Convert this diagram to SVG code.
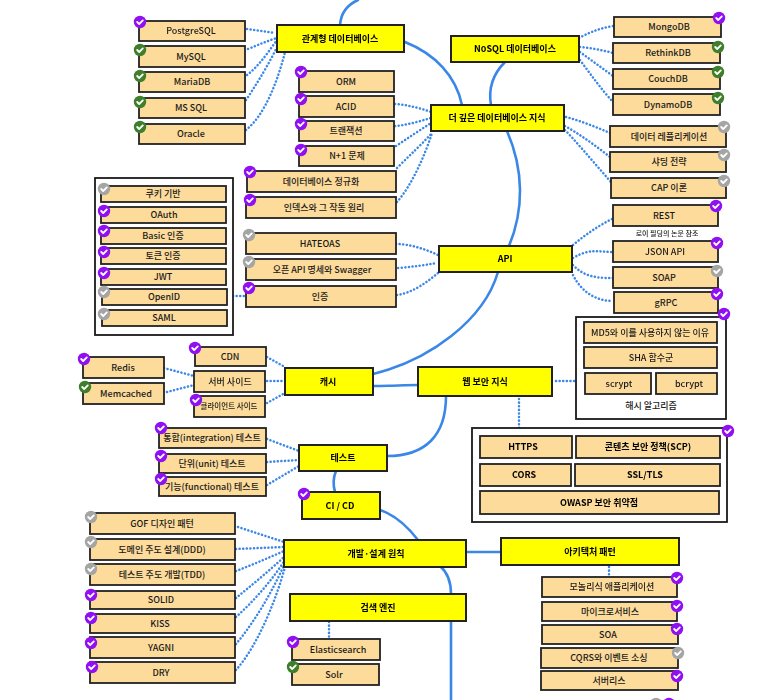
<svg xmlns="http://www.w3.org/2000/svg" width="777" height="700" viewBox="0 0 777 700">
<style>
text{font-family:"Noto Sans CJK KR","Noto Sans",sans-serif;font-size:9px;fill:#1a1a1a;text-anchor:middle;font-weight:500}
.o{fill:#fddb9a;stroke:#222;stroke-width:1.800}
.y{fill:#ffff00;stroke:#222;stroke-width:2}
.y+text,.b{font-weight:700;fill:#000}
.box{fill:#fff;stroke:#1a1a1a;stroke-width:1.800}
.s{fill:none;stroke:#3a87e8;stroke-width:2.600;stroke-linecap:round}
.d{fill:none;stroke:#3a87e8;stroke-width:2.500;stroke-linecap:round;stroke-dasharray:.1 3.500}
.c{fill:none;stroke:#fff;stroke-width:1.800;stroke-linecap:round;stroke-linejoin:round}
.all{filter:blur(.3px)}
</style>
<defs>
<g id="bp"><circle r="6.200" fill="#9110f2"/><path class="c" d="M-2.800 0L-.8 2L2.800-1.600"/></g>
<g id="bg"><circle r="6.200" fill="#3f7f2c"/><path class="c" d="M-2.800 0L-.8 2L2.800-1.600"/></g>
<g id="bn"><circle r="6.200" fill="#a5a5a5"/><path class="c" d="M-2.800 0L-.8 2L2.800-1.600"/></g>
</defs>
<rect width="777" height="700" fill="#fff"/>
<g class="all">
<g id="connectors">
<path class="s" d="M340 25C341 12 349 4 358 0"/>
<path class="s" d="M405 42C435 54 456 76 462 105"/>
<path class="s" d="M505 62C493 74 488 88 491 105"/>
<path class="s" d="M507 131C524 170 524 210 509 246"/>
<path class="s" d="M498 272C484 320 430 360 373 374"/>
<path class="s" d="M373 386C390 386 405 385 418 385"/>
<path class="s" d="M446 396C446 436 425 456 387 456"/>
<path class="s" d="M336 471C333 478 333 485 335 492"/>
<path class="s" d="M380 510C395 515 408 527 418 540"/>
<path class="s" d="M466 552H501"/>
<path class="s" d="M440 566C447 572 451 582 451 594"/>
<path class="s" d="M451 621V700"/>
<path class="d" d="M247 29L275 33"/>
<path class="d" d="M248 49C258 45 267 41 277 38"/>
<path class="d" d="M247 75C260 65 268 52 277 40"/>
<path class="d" d="M246 100C258 82 270 62 278 45"/>
<path class="d" d="M246 130C265 115 278 80 285 52"/>
<path class="d" d="M395 104C408 105 420 108 431 112"/>
<path class="d" d="M395 126C408 125 420 121 431 118"/>
<path class="d" d="M396 146C408 138 420 130 431 123"/>
<path class="d" d="M397 168C410 155 422 144 432 133"/>
<path class="d" d="M397 202C412 185 425 155 432 133"/>
<path class="d" d="M396 244C410 244 425 249 438 255"/>
<path class="d" d="M398 268C412 267 425 265 437 263"/>
<path class="d" d="M397 295C412 293 426 283 438 273"/>
<path class="d" d="M233 296H246"/>
<path class="d" d="M579 38C590 32 601 28 613 26"/>
<path class="d" d="M580 47C591 48 602 50 613 53"/>
<path class="d" d="M580 52C591 60 602 68 613 76"/>
<path class="d" d="M580 60C591 75 602 90 613 102"/>
<path class="d" d="M566 117C581 121 596 127 610 133"/>
<path class="d" d="M565 126C581 135 596 146 610 157"/>
<path class="d" d="M565 130C581 147 596 165 611 182"/>
<path class="d" d="M573 245C585 235 598 226 612 219"/>
<path class="d" d="M573 258C590 248 598 252 613 252"/>
<path class="d" d="M573 265C585 278 600 278 613 278"/>
<path class="d" d="M573 275C582 293 597 301 613 301"/>
<path class="d" d="M556 381H575"/>
<path class="d" d="M519 399V428"/>
<path class="d" d="M609 567V577"/>
<path class="d" d="M267 357L285 367"/>
<path class="d" d="M267 381H285"/>
<path class="d" d="M267 403L285 393"/>
<path class="d" d="M164 368L194 376"/>
<path class="d" d="M167 392L194 385"/>
<path class="d" d="M267 439L299 451"/>
<path class="d" d="M267 462L299 460"/>
<path class="d" d="M267 485L299 466"/>
<path class="d" d="M238 527L284 542"/>
<path class="d" d="M236 549L284 547"/>
<path class="d" d="M236 571C252 565 268 558 284 551"/>
<path class="d" d="M236 598C252 585 270 570 284 557"/>
<path class="d" d="M236 617C255 600 272 580 285 560"/>
<path class="d" d="M236 644C256 620 273 590 285 563"/>
<path class="d" d="M236 670C258 645 276 600 285 567"/>
<path class="d" d="M329 622V639"/>
</g>

<g id="n-rdb"><rect class="y" x="277" y="25" width="127" height="27"/><text x="340" y="41.500">관계형 데이터베이스</text></g>
<g id="n-nosql"><rect class="y" x="451" y="36" width="128" height="26"/><text x="515" y="52">NoSQL 데이터베이스</text></g>
<g id="n-deep"><rect class="y" x="431" y="105" width="133" height="26"/><text x="497" y="121">더 깊은 데이터베이스 지식</text></g>
<g id="n-api"><rect class="y" x="439" y="246" width="133" height="26"/><text x="505" y="262">API</text></g>
<g id="n-cache"><rect class="y" x="285" y="368" width="88" height="27"/><text x="328" y="384.500">캐시</text></g>
<g id="n-websec"><rect class="y" x="418" y="367" width="134" height="29"/><text x="485" y="384.500">웹 보안 지식</text></g>
<g id="n-test"><rect class="y" x="299" y="445" width="88" height="26"/><text x="343" y="461">테스트</text></g>
<g id="n-cicd"><rect class="y" x="302" y="492" width="78" height="27"/><text x="340" y="508.500">CI / CD</text><use href="#bp" x="304" y="494"/></g>
<g id="n-design"><rect class="y" x="284" y="540" width="182" height="27"/><text x="376" y="556.500">개발·설계 원칙</text></g>
<g id="n-arch"><rect class="y" x="501" y="538" width="178" height="27"/><text x="590" y="554.500">아키텍처 패턴</text></g>
<g id="n-search"><rect class="y" x="290" y="594" width="176" height="27"/><text x="378" y="610.500">검색 엔진</text></g>

<g id="n-postgresql"><rect class="o" x="139" y="21" width="106" height="20"/><text x="191" y="34">PostgreSQL</text><use href="#bp" x="140" y="22"/></g>
<g id="n-mysql"><rect class="o" x="139" y="46" width="106" height="21"/><text x="191" y="60">MySQL</text><use href="#bg" x="140" y="50"/></g>
<g id="n-mariadb"><rect class="o" x="139" y="72" width="106" height="20"/><text x="192" y="85">MariaDB</text><use href="#bg" x="140" y="76"/></g>
<g id="n-mssql"><rect class="o" x="139" y="98" width="106" height="20"/><text x="191" y="111">MS SQL</text><use href="#bg" x="140" y="102"/></g>
<g id="n-oracle"><rect class="o" x="139" y="124" width="106" height="20"/><text x="191" y="137">Oracle</text><use href="#bg" x="140" y="127"/></g>

<g id="n-orm"><rect class="o" x="299" y="71" width="95" height="21"/><text x="346" y="85">ORM</text><use href="#bp" x="301" y="72"/></g>
<g id="n-acid"><rect class="o" x="299" y="96" width="95" height="21"/><text x="346" y="110">ACID</text><use href="#bp" x="301" y="99"/></g>
<g id="n-tx"><rect class="o" x="299" y="121" width="95" height="20"/><text x="346" y="134">트랜잭션</text><use href="#bp" x="301" y="124"/></g>
<g id="n-n1"><rect class="o" x="299" y="146" width="95" height="20"/><text x="347" y="159">N+1 문제</text><use href="#bp" x="301" y="150"/></g>
<g id="n-normal"><rect class="o" x="247" y="171" width="149" height="21"/><text x="321" y="185">데이터베이스 정규화</text><use href="#bp" x="250" y="172"/></g>
<g id="n-index"><rect class="o" x="246" y="197" width="150" height="21"/><text x="324" y="211">인덱스와 그 작동 원리</text><use href="#bp" x="250" y="200"/></g>
<g id="n-hateoas"><rect class="o" x="246" y="233" width="150" height="21"/><text x="320" y="247">HATEOAS</text><use href="#bn" x="249" y="235"/></g>
<g id="n-openapi"><rect class="o" x="246" y="259" width="150" height="21"/><text x="322" y="273">오픈 API 명세와 Swagger</text><use href="#bn" x="249" y="262"/></g>
<g id="n-auth"><rect class="o" x="246" y="286" width="150" height="21"/><text x="320" y="300">인증</text><use href="#bp" x="249" y="288"/></g>

<g id="n-authbox"><rect class="box" x="95" y="178" width="138" height="157"/></g>
<g id="n-cookie"><rect class="o" x="101" y="186" width="125" height="16"/><text x="163" y="197">쿠키 기반</text><use href="#bn" x="104" y="189"/></g>
<g id="n-oauth"><rect class="o" x="101" y="207" width="125" height="16"/><text x="164" y="218">OAuth</text><use href="#bp" x="104" y="211"/></g>
<g id="n-basic"><rect class="o" x="101" y="228" width="125" height="16"/><text x="163" y="239">Basic 인증</text><use href="#bp" x="104" y="231"/></g>
<g id="n-token"><rect class="o" x="101" y="248" width="125" height="16"/><text x="163" y="259">토큰 인증</text><use href="#bp" x="104" y="252"/></g>
<g id="n-jwt"><rect class="o" x="101" y="269" width="125" height="16"/><text x="163" y="280">JWT</text><use href="#bp" x="104" y="273"/></g>
<g id="n-openid"><rect class="o" x="102" y="289" width="125" height="16"/><text x="164" y="300">OpenID</text><use href="#bn" x="104" y="292"/></g>
<g id="n-saml"><rect class="o" x="102" y="310" width="125" height="16"/><text x="164" y="321">SAML</text><use href="#bn" x="104" y="314"/></g>

<g id="n-mongodb"><rect class="o" x="614" y="17" width="107" height="20"/><text x="669" y="30">MongoDB</text><use href="#bp" x="719" y="18"/></g>
<g id="n-rethinkdb"><rect class="o" x="613" y="43" width="107" height="20"/><text x="668" y="56">RethinkDB</text><use href="#bg" x="718" y="47"/></g>
<g id="n-couchdb"><rect class="o" x="613" y="69" width="107" height="20"/><text x="668" y="82">CouchDB</text><use href="#bg" x="718" y="72"/></g>
<g id="n-dynamodb"><rect class="o" x="613" y="94" width="107" height="21"/><text x="668" y="108">DynamoDB</text><use href="#bg" x="718" y="98"/></g>
<g id="n-replication"><rect class="o" x="610" y="126" width="116" height="21"/><text x="669" y="140">데이터 레플리케이션</text><use href="#bn" x="724" y="127"/></g>
<g id="n-sharding"><rect class="o" x="610" y="152" width="116" height="20"/><text x="669" y="165">샤딩 전략</text><use href="#bn" x="724" y="155"/></g>
<g id="n-cap"><rect class="o" x="611" y="178" width="115" height="20"/><text x="669" y="191">CAP 이론</text><use href="#bn" x="724" y="181"/></g>
<g id="n-rest"><rect class="o" x="613" y="205" width="105" height="21"/><text x="664" y="219">REST</text><use href="#bp" x="716" y="206"/></g>
<g id="n-restnote"><text x="667" y="236" style="font-size:7px">로이 필딩의 논문 참조</text></g>
<g id="n-json"><rect class="o" x="613" y="241" width="105" height="21"/><text x="665" y="255">JSON API</text><use href="#bp" x="717" y="243"/></g>
<g id="n-soap"><rect class="o" x="613" y="267" width="105" height="21"/><text x="664" y="281">SOAP</text><use href="#bn" x="717" y="271"/></g>
<g id="n-grpc"><rect class="o" x="614" y="292" width="104" height="21"/><text x="666" y="306">gRPC</text><use href="#bp" x="717" y="294"/></g>

<g id="n-hash"><rect class="box" x="576" y="317" width="150" height="102"/><text x="651" y="409">해시 알고리즘</text><use href="#bp" x="724" y="314"/></g>
<g id="n-md5"><rect class="o" x="584" y="322" width="133" height="21"/><text x="650" y="336">MD5와 이를 사용하지 않는 이유</text></g>
<g id="n-sha"><rect class="o" x="584" y="347" width="133" height="21"/><text x="651" y="361">SHA 함수군</text></g>
<g id="n-scrypt"><rect class="o" x="585" y="373" width="66" height="21"/><text x="619" y="387">scrypt</text></g>
<g id="n-bcrypt"><rect class="o" x="656" y="373" width="61" height="21"/><text x="689" y="387">bcrypt</text></g>

<g id="n-secbox"><rect class="box" x="472" y="428" width="255" height="94"/><use href="#bp" x="728" y="431"/></g>
<g id="n-https"><rect class="o" x="480" y="436" width="92" height="22"/><text class="b" x="523" y="450">HTTPS</text></g>
<g id="n-csp"><rect class="o" x="576" y="436" width="144" height="22"/><text class="b" x="648" y="450">콘텐츠 보안 정책(SCP)</text></g>
<g id="n-cors"><rect class="o" x="480" y="464" width="91" height="22"/><text class="b" x="524" y="478">CORS</text></g>
<g id="n-ssl"><rect class="o" x="575" y="464" width="145" height="22"/><text class="b" x="645" y="478">SSL/TLS</text></g>
<g id="n-owasp"><rect class="o" x="480" y="491" width="239" height="23"/><text class="b" x="599" y="505.500">OWASP 보안 취약점</text></g>

<g id="n-mono"><rect class="o" x="542" y="577" width="135" height="20"/><text x="612" y="590">모놀리식 애플리케이션</text><use href="#bp" x="677" y="578"/></g>
<g id="n-micro"><rect class="o" x="542" y="602" width="135" height="19"/><text x="610" y="615">마이크로서비스</text><use href="#bp" x="677" y="606"/></g>
<g id="n-soa"><rect class="o" x="542" y="625" width="136" height="19"/><text x="608" y="638">SOA</text><use href="#bp" x="677" y="629"/></g>
<g id="n-cqrs"><rect class="o" x="541" y="648" width="137" height="20"/><text x="609" y="661">CQRS와 이벤트 소싱</text><use href="#bn" x="678" y="653"/></g>
<g id="n-serverless"><rect class="o" x="541" y="671" width="137" height="19"/><text x="609" y="684">서버리스</text><use href="#bp" x="677" y="676"/></g>
<g id="n-cut1"><use href="#bn" x="656" y="704"/></g>
<g id="n-cut2"><use href="#bp" x="669" y="704"/></g>

<g id="n-redis"><rect class="o" x="83" y="357" width="81" height="21"/><text x="123" y="371">Redis</text><use href="#bp" x="84" y="359"/></g>
<g id="n-memcached"><rect class="o" x="83" y="383" width="81" height="21"/><text x="126" y="397">Memcached</text><use href="#bg" x="85" y="387"/></g>
<g id="n-cdn"><rect class="o" x="195" y="347" width="71" height="19"/><text x="230" y="360">CDN</text><use href="#bp" x="195" y="348"/></g>
<g id="n-server"><rect class="o" x="194" y="371" width="71" height="21"/><text x="230" y="385">서버 사이드</text></g>
<g id="n-client"><rect class="o" x="194" y="396" width="71" height="21"/><text x="229" y="409" style="font-size:7.500px">클라이언트 사이드</text><use href="#bp" x="196" y="400"/></g>

<g id="n-integration"><rect class="o" x="159" y="428" width="107" height="20"/><text x="212" y="441">통합(integration) 테스트</text><use href="#bp" x="161" y="428"/></g>
<g id="n-unit"><rect class="o" x="159" y="454" width="107" height="19"/><text x="212" y="467">단위(unit) 테스트</text><use href="#bp" x="161" y="456"/></g>
<g id="n-functional"><rect class="o" x="159" y="477" width="107" height="19"/><text x="212" y="490">기능(functional) 테스트</text><use href="#bp" x="161" y="479"/></g>

<g id="n-gof"><rect class="o" x="90" y="513" width="145" height="21"/><text x="162" y="527">GOF 디자인 패턴</text><use href="#bn" x="91" y="517"/></g>
<g id="n-ddd"><rect class="o" x="90" y="539" width="145" height="21"/><text x="162" y="553">도메인 주도 설계(DDD)</text><use href="#bn" x="91" y="542"/></g>
<g id="n-tdd"><rect class="o" x="90" y="564" width="145" height="21"/><text x="162" y="578">테스트 주도 개발(TDD)</text><use href="#bn" x="91" y="569"/></g>
<g id="n-solid"><rect class="o" x="90" y="591" width="145" height="18"/><text x="161" y="603">SOLID</text><use href="#bp" x="91" y="595"/></g>
<g id="n-kiss"><rect class="o" x="90" y="614" width="145" height="19"/><text x="160" y="627">KISS</text><use href="#bp" x="91" y="618"/></g>
<g id="n-yagni"><rect class="o" x="90" y="637" width="145" height="21"/><text x="161" y="651">YAGNI</text><use href="#bp" x="91" y="643"/></g>
<g id="n-dry"><rect class="o" x="90" y="662" width="145" height="21"/><text x="161" y="676">DRY</text><use href="#bp" x="92" y="667"/></g>

<g id="n-elastic"><rect class="o" x="292" y="639" width="88" height="21"/><text x="338" y="653">Elasticsearch</text><use href="#bp" x="293" y="642"/></g>
<g id="n-solr"><rect class="o" x="292" y="664" width="87" height="21"/><text x="334" y="678">Solr</text><use href="#bg" x="293" y="667"/></g>
</g>
</svg>
